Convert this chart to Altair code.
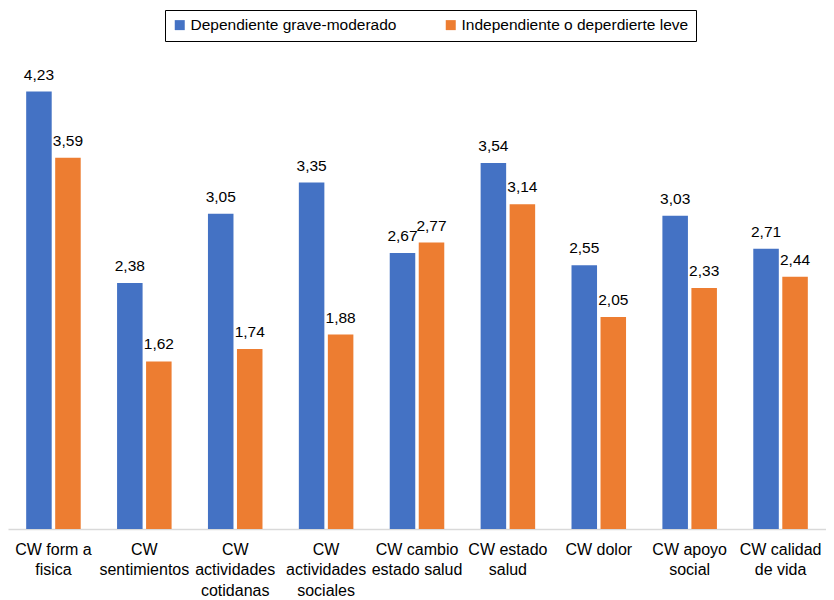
import altair as alt
import pandas as pd

categories = ["CW form a|fisica", "CW|sentimientos", "CW|actividades|cotidanas",
              "CW|actividades|sociales", "CW cambio|estado salud", "CW estado|salud",
              "CW dolor", "CW apoyo|social", "CW calidad|de vida"]
series_names = ["Dependiente grave-moderado", "Independiente o deperdierte leve"]
dep_values = [4.23, 2.38, 3.05, 3.35, 2.67, 3.54, 2.55, 3.03, 2.71]
ind_values = [3.59, 1.62, 1.74, 1.88, 2.77, 3.14, 2.05, 2.33, 2.44]
colors = ["#4472C4", "#ED7D31"]

rows = []
for c, a, b in zip(categories, dep_values, ind_values):
    rows.append({"cat": c, "serie": series_names[0], "v": a, "lab": f"{a:.2f}".replace(".", ",")})
    rows.append({"cat": c, "serie": series_names[1], "v": b, "lab": f"{b:.2f}".replace(".", ",")})
df = pd.DataFrame(rows)

x = alt.X("cat:N", sort=categories, title=None,
          scale=alt.Scale(paddingInner=0.4, paddingOuter=0.2),
          axis=alt.Axis(labelAngle=0, labelExpr="split(datum.label, '|')",
                        labelFontSize=16, labelLineHeight=20.5, labelColor="#000",
                        labelFont="Liberation Sans", labelPadding=12,
                        domainColor="#d9d9d9", domainWidth=1.5, ticks=False, grid=False))
xoff = alt.XOffset("serie:N", sort=series_names, scale=alt.Scale(paddingInner=0.12))
y = alt.Y("v:Q", scale=alt.Scale(domain=[0, 5]), axis=None)

bars = alt.Chart(df).mark_bar().encode(
    x=x, xOffset=xoff, y=y,
    color=alt.Color("serie:N", sort=series_names,
                    scale=alt.Scale(domain=series_names, range=colors),
                    legend=alt.Legend(title=None, orient="none", direction="horizontal",
                                      legendX=157, legendY=-2, symbolType="square",
                                      symbolSize=100, labelFontSize=15.5, labelOffset=3,
                                      labelFont="Liberation Sans", labelColor="#000",
                                      strokeColor="#000", padding=7, columnPadding=46,
                                      symbolStrokeWidth=0, labelLimit=400,
                                      fillColor="white"))
)
text = alt.Chart(df).mark_text(baseline="alphabetic", dy=-12, fontSize=15.5,
                               font="Liberation Sans", color="#000").encode(
    x=x, xOffset=xoff, y=y, text="lab:N")

chart = (bars + text).properties(
    width=818, height=590,
    autosize=alt.AutoSizeParams(type="fit", contains="padding"),
    padding={"top": 4, "left": 0, "right": 0, "bottom": 0}
).configure_view(stroke=None)

chart.save("out.html", embed_options={"renderer": "svg", "actions": False})
